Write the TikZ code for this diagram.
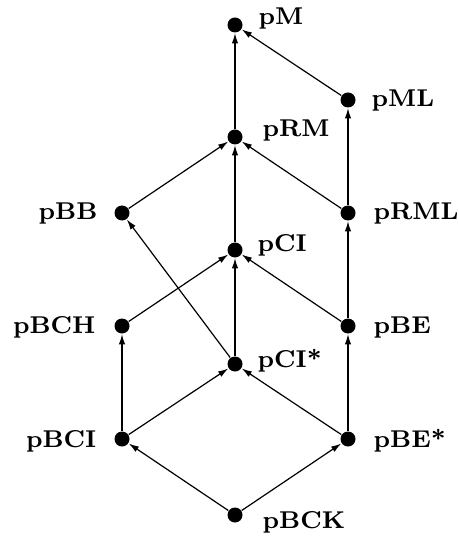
\documentclass[tikz,border=0pt]{standalone}
\usetikzlibrary{arrows.meta}
\begin{document}
\begin{tikzpicture}[x=0.3333pt,y=-0.3333pt,
  dot/.style={circle,fill=black,inner sep=0pt,minimum size=5pt},
  lab/.style={inner sep=0pt,font=\fontsize{8.1}{10}\selectfont\bfseries},
  edge/.style={line width=0.4pt,-{Latex[length=3.4pt,width=2.1pt]}}]
\useasboundingbox (0,0) rectangle (458,537);
% dots
\node[dot] (pM) at (235,25) {};
\node[dot] (pML) at (348,100) {};
\node[dot] (pRM) at (235,137) {};
\node[dot] (pBB) at (122,213) {};
\node[dot] (pRML) at (348,213) {};
\node[dot] (pCI) at (235,250) {};
\node[dot] (pBCH) at (122,326) {};
\node[dot] (pBE) at (348,326) {};
\node[dot] (pCIs) at (235,364) {};
\node[dot] (pBCI) at (122,439) {};
\node[dot] (pBEs) at (348,439) {};
\node[dot] (pBCK) at (235,515) {};
% labels
\node[lab,anchor=base west] (lM) at (258,25) {pM};
\node[lab,anchor=base west] (lML) at (371,107) {pML};
\node[lab,anchor=base west] (lRM) at (262,137) {pRM};
\node[lab,anchor=base east] (lBB) at (98,220) {pBB};
\node[lab,anchor=base west] (lRML) at (373,220) {pRML};
\node[lab,anchor=base west] (lCI) at (257,252) {pCI};
\node[lab,anchor=base east] (lBCH) at (96,333) {pBCH};
\node[lab,anchor=base west] (lBE) at (373,333) {pBE};
\node[lab,anchor=base west] (lCIs) at (257,367) {pCI*};
\node[lab,anchor=base east] (lBCI) at (97,447) {pBCI};
\node[lab,anchor=base west] (lBEs) at (373,447) {pBE*};
\node[lab,anchor=base west] (lBCK) at (262,528) {pBCK};
% edges
\draw[edge] (pML) -- (pM);
\draw[edge] (pRM) -- (pM);
\draw[edge] (pRML) -- (pML);
\draw[edge] (pRML) -- (pRM);
\draw[edge] (pBB) -- (pRM);
\draw[edge] (pCI) -- (pRM);
\draw[edge] (pCIs) -- (pBB);
\draw[edge] (pBCH) -- (pCI);
\draw[edge] (pBE) -- (pCI);
\draw[edge] (pBE) -- (pRML);
\draw[edge] (pCIs) -- (pCI);
\draw[edge] (pBCI) -- (pBCH);
\draw[edge] (pBCI) -- (pCIs);
\draw[edge] (pBEs) -- (pCIs);
\draw[edge] (pBEs) -- (pBE);
\draw[edge] (pBCK) -- (pBCI);
\draw[edge] (pBCK) -- (pBEs);
\end{tikzpicture}
\end{document}
